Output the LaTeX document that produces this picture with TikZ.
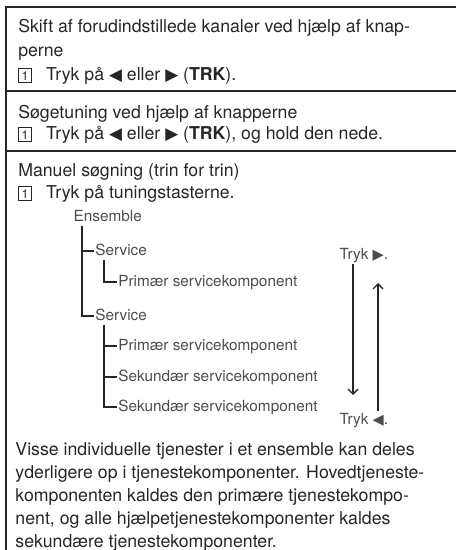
\documentclass[tikz,border=0pt]{standalone}
\usepackage{fontspec}
\setmainfont{TeX Gyre Heros}
\newfontfamily\symfont{DejaVu Sans}
\usetikzlibrary{arrows.meta}

\newcommand{\stepno}[1]{{\setlength{\fboxsep}{0pt}\setlength{\fboxrule}{0.5pt}\fbox{\makebox[8.8pt]{\rule[-1pt]{0pt}{9.4pt}\fontsize{8.8}{8.8}\selectfont #1}}}}
\newcommand{\keyleft}{{\symfont\scalebox{0.95}{◀}}}
\newcommand{\keyright}{{\symfont\scalebox{0.95}{▶}}}

\begin{document}
\begin{tikzpicture}[
        txt/.style={anchor=north west,inner sep=0pt,align=left,text=black!85,font=\fontsize{12.6}{17}\selectfont},
        tree/.style={anchor=west,inner sep=1pt,text=black!70,font=\fontsize{10.9}{13}\selectfont,text height=1.6ex,text depth=.4ex},
        flow/.style={-{Straight Barb[length=3.5pt,width=7pt]},line width=1pt}]
    \useasboundingbox (0,0) rectangle (11.4,-13.75);
    \begin{scope}[black!85]
        \draw [line width=1.8pt] (0.15,-13.75) -- (0.15,-0.175) -- (11.4,-0.175);
        \draw [line width=1.3pt] (0.125,-2.275) -- (11.4,-2.275);
        \draw [line width=1.3pt] (0.125,-3.775) -- (11.4,-3.775);
    \end{scope}

    \node [txt] (preset) at (0.45,-0.485) {Skift af forudindstillede kanaler ved hjælp af knap-\\perne\\\stepno{1}\hspace{0.8em}Tryk på \keyleft{} eller \keyright{} (\textbf{TRK}).};
    \node [txt,font=\fontsize{12.6}{14.5}\selectfont] (seek) at (0.45,-2.63) {Søgetuning ved hjælp af knapperne\\\stepno{1}\hspace{0.8em}Tryk på \keyleft{} eller \keyright{} (\textbf{TRK}), og hold den nede.};
    \node [txt,font=\fontsize{12.6}{15.6}\selectfont] (manual) at (0.45,-4.09) {Manuel søgning (trin for trin)\\\stepno{1}\hspace{0.8em}Tryk på tuningstasterne.};

    \node [tree] (ens)   at (1.8,-5.425)   {Ensemble};
    \node [tree] (svc1)  at (2.34,-6.275)  {Service};
    \node [tree] (prim1) at (2.915,-7.05)  {Primær servicekomponent};
    \node [tree] (svc2)  at (2.34,-7.9)    {Service};
    \node [tree] (prim2) at (2.915,-8.65)  {Primær servicekomponent};
    \node [tree] (sek1)  at (2.915,-9.425) {Sekundær servicekomponent};
    \node [tree] (sek2)  at (2.915,-10.175) {Sekundær servicekomponent};

    \begin{scope}[line width=1.1pt,black!85]
        \foreach \n in {svc1,svc2}
            \draw ([xshift=0.25cm]ens.south west) |- (\n.west);
        \draw ([xshift=0.26cm]svc1.south west) |- (prim1.west);
        \foreach \n in {prim2,sek1,sek2}
            \draw ([xshift=0.26cm]svc2.south west) |- (\n.west);
    \end{scope}

    \node [tree] (trykR) at (8.45,-6.375) {Tryk \keyright.};
    \node [tree] (trykL) at (8.45,-10.5)  {Tryk \keyleft.};
    \coordinate (dnend) at (8.825,-9.875);
    \coordinate (upend) at (9.45,-7.075);
    \draw [flow,black!85] (trykR.south -| dnend) -- (dnend);
    \draw [flow,black!85] (trykL.north -| upend) -- (upend);

    \node [txt,font=\fontsize{12.6}{16.4}\selectfont] (note) at (0.38,-11.06) {Visse individuelle tjenester i et ensemble kan deles\\yderligere op i tjenestekomponenter. Hovedtjeneste-\\komponenten kaldes den primære tjenestekompo-\\nent, og alle hjælpetjenestekomponenter kaldes\\sekundære tjenestekomponenter.};
\end{tikzpicture}
\end{document}
